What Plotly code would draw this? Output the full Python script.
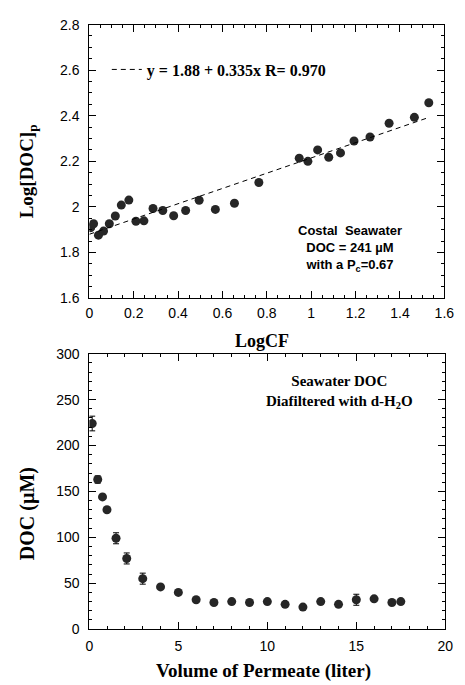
import plotly.graph_objects as go

# --- Top panel: concentration-factor plot ---
log_cf = [0.006, 0.019, 0.041, 0.064, 0.090, 0.117, 0.144, 0.178, 0.210, 0.246,
          0.287, 0.331, 0.380, 0.434, 0.495, 0.568, 0.654, 0.764, 0.946, 0.985,
          1.029, 1.079, 1.132, 1.193, 1.265, 1.351, 1.465, 1.530]
log_doc_p = [1.909, 1.926, 1.876, 1.894, 1.926, 1.960, 2.008, 2.030, 1.937, 1.939,
             1.993, 1.984, 1.961, 1.984, 2.029, 1.989, 2.016, 2.107, 2.214, 2.200,
             2.250, 2.218, 2.237, 2.289, 2.307, 2.367, 2.393, 2.457]
fit_intercept = 1.88
fit_slope = 0.335
fit_r = 0.970
fit_x = [0.0, 1.52]

# --- Bottom panel: diafiltration curve ---
permeate_l = [0.16, 0.47, 0.74, 0.99, 1.5, 2.1, 3.0, 4.0, 5.0, 6.0, 7.0, 8.0,
              9.0, 10.0, 11.0, 12.0, 13.0, 14.0, 15.0, 16.0, 17.0, 17.5]
doc_um = [224, 163, 144, 130, 99, 77, 55, 46, 40, 32, 29, 30,
          29, 30, 27, 24, 30, 27, 32, 33, 29, 30]
doc_err = [8, 4, 0, 0, 6, 6, 6, 0, 0, 0, 0, 0,
           0, 0, 0, 0, 0, 0, 6, 0, 0, 0]

W, H = 465, 685
def px(x):
    return x / W
def py(y):
    return 1 - y / H

MARK = "#262626"
SANS = "Liberation Sans, Arial, sans-serif"
SERIF = "Liberation Serif, Times New Roman, serif"
tickfont = dict(family=SANS, size=14, color="black")

fig = go.Figure()

fig.add_trace(go.Scatter(
    x=log_cf, y=log_doc_p, mode="markers", showlegend=False,
    marker=dict(size=9, color=MARK), xaxis="x", yaxis="y"))

fig.add_trace(go.Scatter(
    x=fit_x, y=[fit_intercept + fit_slope * v for v in fit_x], mode="lines",
    name=f"<b>y = {fit_intercept:.2f} + {fit_slope:.3f}x R= {fit_r:.3f}</b>",
    line=dict(color="black", width=1, dash="5px,4px"), xaxis="x", yaxis="y"))

fig.add_trace(go.Scatter(
    x=permeate_l, y=doc_um, mode="markers", showlegend=False,
    marker=dict(size=9, color=MARK),
    error_y=dict(type="data", array=doc_err, visible=True, color="black",
                 thickness=1, width=3),
    xaxis="x2", yaxis="y2"))

def minor(dtick, tick0=0):
    return dict(dtick=dtick, tick0=tick0, ticks="inside", ticklen=3,
                tickcolor="black", tickwidth=1, showgrid=False)

def axis_common(**kw):
    d = dict(showline=True, linecolor="black", linewidth=1, mirror="ticks",
             ticks="inside", ticklen=7, tickwidth=1, tickcolor="black",
             showgrid=False, zeroline=False, tickfont=tickfont)
    d.update(kw)
    return d

def outer_ticks(overlay, anchor, rng, dtick):
    # outward half of the major ticks, so they cross the frame
    return dict(overlaying=overlay, anchor=anchor, range=rng, dtick=dtick,
                tick0=rng[0], ticks="outside", ticklen=4, tickcolor="black",
                showticklabels=False, showline=False, showgrid=False,
                zeroline=False, mirror="ticks", side="left")

fig.update_layout(
    width=W, height=H, margin=dict(l=0, r=0, t=0, b=0),
    paper_bgcolor="white", plot_bgcolor="white",
    xaxis=axis_common(domain=[px(88), px(454)], anchor="y", range=[0, 1.6],
                      tickvals=[0, 0.2, 0.4, 0.6, 0.8, 1, 1.2, 1.4, 1.6],
                      ticktext=["0", "0.2", "0.4", "0.6", "0.8", "1", "1.2", "1.4", "1.6"],
                      ticklabelstandoff=2, minor=minor(0.05)),
    yaxis=axis_common(domain=[py(297), py(17)], anchor="x", range=[1.6, 2.8],
                      tickvals=[1.6, 1.8, 2.0, 2.2, 2.4, 2.6, 2.8],
                      ticktext=["1.6", "1.8", "2", "2.2", "2.4", "2.6", "2.8"],
                      ticklabelstandoff=6, minor=minor(0.05, 1.6)),
    yaxis3=outer_ticks("y", "x", [1.6, 2.8], 0.2),
    xaxis2=axis_common(domain=[px(88), px(455)], anchor="y2", range=[0, 20],
                       dtick=5, tick0=0, ticklabelstandoff=4, minor=minor(1)),
    yaxis2=axis_common(domain=[py(636), py(354)], anchor="x2", range=[0, 300],
                       dtick=50, tick0=0, ticklabelstandoff=6, minor=minor(10)),
    yaxis4=outer_ticks("y2", "x2", [0, 300], 50),
    legend=dict(x=px(106), y=py(63), xanchor="left", yanchor="middle",
                bgcolor="rgba(0,0,0,0)", borderwidth=0,
                font=dict(family=SERIF, size=16, color="black")),
)

ann = []
# axis titles
ann.append(dict(text="<b>Log[DOC]<sub>p</sub></b>", x=px(25), y=py(167), textangle=-90,
                font=dict(family=SERIF, size=19, color="black")))
ann.append(dict(text="<b>LogCF</b>", x=px(266), y=py(341),
                font=dict(family=SERIF, size=18, color="black")))
ann.append(dict(text="<b>DOC (µM)</b>", x=px(25), y=py(518), textangle=-90,
                font=dict(family=SERIF, size=20, color="black")))
ann.append(dict(text="<b>Volume of Permeate (liter)</b>", x=px(268), y=0,
                yanchor="bottom", yshift=-7,
                font=dict(family=SERIF, size=19, color="black")))
# panel notes
ann.append(dict(text="<b>Costal  Seawater<br>DOC = 241 µM<br>with a P<sub>c</sub>=0.67</b>",
                x=px(357), y=py(246), align="center",
                font=dict(family=SANS, size=13, color="black")))
ann.append(dict(text="<b>Seawater DOC<br>Diafiltered with d-H<sub>2</sub>O</b>",
                x=px(346), y=py(393), align="center",
                font=dict(family=SERIF, size=15, color="black")))
for a in ann:
    a.setdefault("yanchor", "middle")
    a.update(xref="paper", yref="paper", showarrow=False, xanchor="center")
fig.update_layout(annotations=ann)

fig.write_html("out.html")
